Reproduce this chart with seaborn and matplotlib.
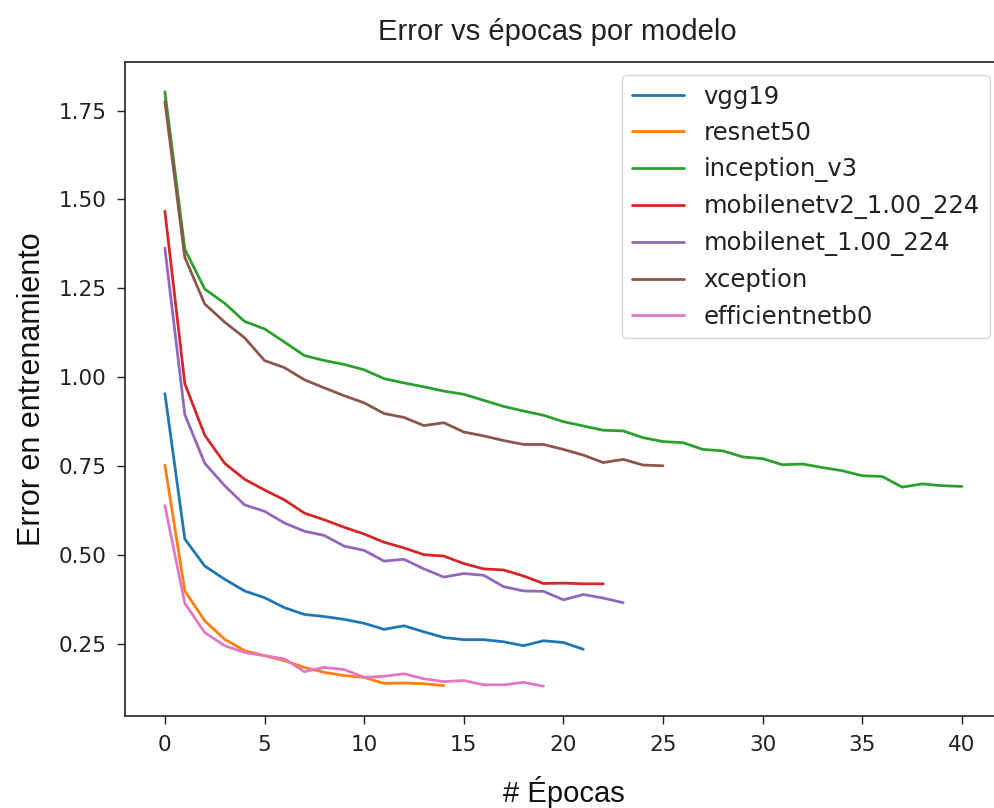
import numpy as np
import pandas as pd
import matplotlib
matplotlib.use('Agg')
import matplotlib.pyplot as plt
import seaborn as sns

# ── DATA ────────────────────────────────────────────────────────────────────
MODELS = ["vgg19", "resnet50", "inception_v3", "mobilenetv2_1.00_224",
          "mobilenet_1.00_224", "xception", "efficientnetb0"]

vgg19 = [0.954, 0.545, 0.469, 0.432, 0.399, 0.380, 0.352, 0.333, 0.327, 0.319,
         0.308, 0.291, 0.301, 0.284, 0.268, 0.262, 0.262, 0.256, 0.245, 0.259,
         0.254, 0.235]
resnet50 = [0.753, 0.399, 0.315, 0.263, 0.231, 0.217, 0.203, 0.184, 0.170, 0.161,
            0.156, 0.139, 0.140, 0.138, 0.133]
inception_v3 = [1.803, 1.360, 1.248, 1.208, 1.157, 1.136, 1.099, 1.061, 1.047, 1.036,
                1.021, 0.996, 0.984, 0.973, 0.961, 0.952, 0.935, 0.918, 0.905, 0.893,
                0.875, 0.863, 0.851, 0.849, 0.830, 0.819, 0.816, 0.797, 0.793, 0.776,
                0.771, 0.754, 0.756, 0.746, 0.737, 0.723, 0.721, 0.691, 0.700, 0.695,
                0.693]
mobilenetv2 = [1.467, 0.982, 0.837, 0.758, 0.713, 0.683, 0.655, 0.618, 0.599, 0.578,
               0.559, 0.536, 0.520, 0.501, 0.497, 0.476, 0.461, 0.458, 0.441, 0.420,
               0.421, 0.419, 0.419]
mobilenet = [1.363, 0.895, 0.758, 0.695, 0.641, 0.623, 0.590, 0.567, 0.555, 0.525,
             0.513, 0.483, 0.488, 0.461, 0.438, 0.448, 0.443, 0.411, 0.399, 0.398,
             0.374, 0.389, 0.379, 0.366]
xception = [1.775, 1.337, 1.206, 1.155, 1.111, 1.047, 1.027, 0.993, 0.970, 0.948,
            0.928, 0.898, 0.887, 0.864, 0.872, 0.846, 0.835, 0.822, 0.811, 0.811,
            0.797, 0.781, 0.760, 0.769, 0.753, 0.751]
efficientnetb0 = [0.639, 0.364, 0.282, 0.245, 0.226, 0.217, 0.208, 0.172, 0.184, 0.178,
                  0.156, 0.159, 0.166, 0.152, 0.144, 0.147, 0.135, 0.135, 0.142, 0.131]

SERIES = [vgg19, resnet50, inception_v3, mobilenetv2, mobilenet, xception, efficientnetb0]
Y_TICKS = [0.25, 0.50, 0.75, 1.00, 1.25, 1.50, 1.75]

# long format table for seaborn
frames = []
for name, vals in zip(MODELS, SERIES):
    frames.append(pd.DataFrame({'epoch': np.arange(len(vals)), 'loss': vals, 'model': name}))
df = pd.concat(frames, ignore_index=True)

# ── PLOT ────────────────────────────────────────────────────────────────────
sns.set_style('ticks')
plt.rcParams['font.family'] = ['DejaVu Sans']
palette = sns.color_palette('tab10', len(MODELS))

fig = plt.figure(figsize=(9.94, 8.08), dpi=100)
ax = fig.add_axes([0.1258, 0.1139, 0.882, 0.8094])

for i, name in enumerate(MODELS):
    sub = df[df['model'] == name]
    sns.lineplot(data=sub, x='epoch', y='loss', ax=ax, color=palette[i],
                 linewidth=2.0, label=name)

ax.set_xlim(-2, 42)
ax.set_xticks(np.arange(0, 41, 5))
ax.set_yticks(Y_TICKS)
ax.set_yticklabels([f'{v:.2f}' for v in Y_TICKS])
ax.tick_params(labelsize=15.5, length=5.5, width=1, pad=8, colors='#222222')
for s in ax.spines.values():
    s.set_linewidth(1.2)
    s.set_color('#222222')
    s.set_visible(True)

leg = ax.legend(loc='upper right', fontsize=17.5, frameon=True, framealpha=0.8,
                handlelength=2.15, borderaxespad=0, bbox_to_anchor=(0.9863, 0.9801))
for t in leg.get_texts():
    t.set_color('#222222')

fig.text(0.561, 0.961, 'Error vs épocas por modelo', ha='center', va='center',
         fontsize=21, family='Liberation Sans', color='#222222')
ax.set_xlabel('# Épocas', fontsize=21, family='Liberation Sans', labelpad=15,
              color='#111111')
ax.set_ylabel('Error en entrenamiento', fontsize=22, family='Liberation Sans',
              labelpad=8, color='#111111')

fig.savefig('out.png', dpi=100)
plt.close(fig)
